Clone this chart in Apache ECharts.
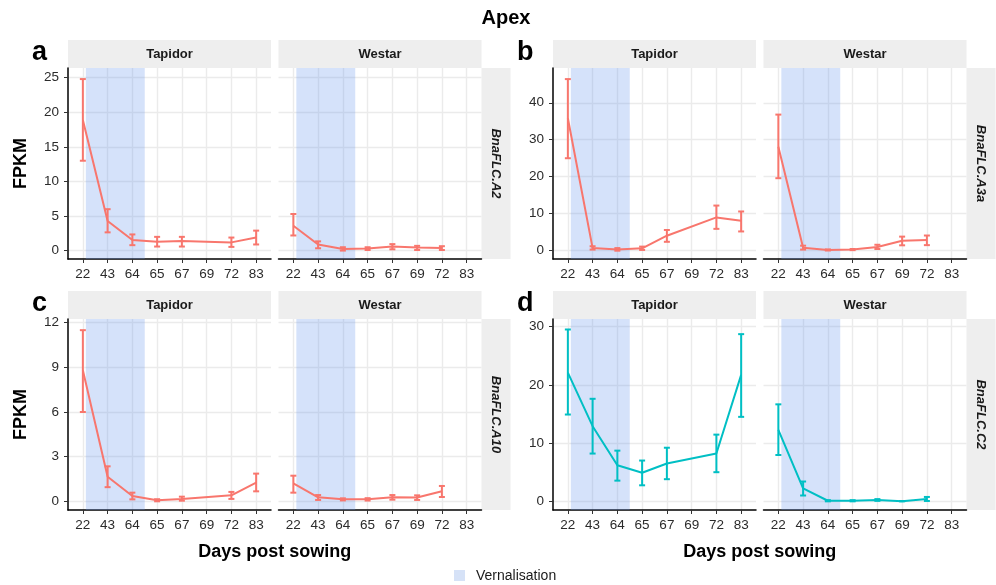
<!DOCTYPE html>
<html>
<head>
<meta charset="UTF-8">
<title>Apex FLC expression</title>
<script src="https://cdn.jsdelivr.net/npm/echarts@6/dist/echarts.min.js"></script>
<style>
  html, body { margin: 0; padding: 0; background: #fff; }
  #main { width: 996px; height: 585px; }
</style>
</head>
<body>
<div id="main"></div>
<script>
// sampling days (categories on the x axis)
var days = ['22', '43', '64', '65', '67', '69', '72', '83'];

// a: BnaFLC.A2
var aTapMean = [18.9, 4.3, 1.55, 1.3, 1.4, null, 1.2, 1.9];
var aTapLow  = [13.0, 2.65, 0.8, 0.6, 0.6, null, 0.55, 0.9];
var aTapHigh = [24.8, 6.0, 2.35, 2.0, 2.0, null, 1.9, 2.9];
var aWesMean = [3.6, 0.9, 0.25, 0.3, 0.6, 0.45, 0.4, null];
var aWesLow  = [2.2, 0.35, 0.02, 0.1, 0.2, 0.1, 0.1, null];
var aWesHigh = [5.3, 1.35, 0.5, 0.5, 0.95, 0.7, 0.65, null];

// b: BnaFLC.A3a
var bTapMean = [35.8, 0.7, 0.35, 0.65, 4.05, null, 9.0, 8.1];
var bTapLow  = [25.0, 0.3, 0.0, 0.2, 2.4, null, 5.9, 5.2];
var bTapHigh = [46.4, 1.2, 0.7, 1.1, 5.6, null, 12.2, 10.6];
var bWesMean = [28.1, 0.8, 0.2, 0.3, 1.0, 2.7, 2.9, null];
var bWesLow  = [19.6, 0.3, 0.05, 0.15, 0.45, 1.45, 1.5, null];
var bWesHigh = [36.8, 1.35, 0.35, 0.45, 1.6, 3.8, 4.1, null];

// c: BnaFLC.A10
var cTapMean = [8.8, 1.65, 0.36, 0.07, 0.16, null, 0.4, 1.25];
var cTapLow  = [6.0, 0.95, 0.13, 0.0, 0.04, null, 0.16, 0.67];
var cTapHigh = [11.5, 2.35, 0.58, 0.14, 0.31, null, 0.63, 1.86];
var cWesMean = [1.2, 0.27, 0.13, 0.13, 0.27, 0.25, 0.67, null];
var cWesLow  = [0.58, 0.09, 0.06, 0.05, 0.11, 0.09, 0.29, null];
var cWesHigh = [1.72, 0.42, 0.2, 0.21, 0.42, 0.4, 1.03, null];

// d: BnaFLC.C2
var dTapMean = [22.1, 12.9, 6.2, 4.9, 6.5, null, 8.2, 21.7];
var dTapLow  = [14.9, 8.2, 3.55, 2.75, 3.8, null, 5.0, 14.5];
var dTapHigh = [29.5, 17.6, 8.7, 7.0, 9.2, null, 11.45, 28.7];
var dWesMean = [12.25, 2.23, 0.1, 0.1, 0.23, 0.02, 0.4, null];
var dWesLow  = [7.95, 1.0, 0.0, 0.0, 0.08, 0.0, 0.06, null];
var dWesHigh = [16.65, 3.4, 0.2, 0.2, 0.38, 0.05, 0.75, null];

// y tick labels per gene
var aTicks = [0, 5, 10, 15, 20, 25];
var bTicks = [0, 10, 20, 30, 40];
var cTicks = [0, 3, 6, 9, 12];
var dTicks = [0, 10, 20, 30];

// vernalisation period, in category positions
var vernBand = [0.12, 2.5];

var genes = ['BnaFLC.A2', 'BnaFLC.A3a', 'BnaFLC.A10', 'BnaFLC.C2'];
var letters = ['a', 'b', 'c', 'd'];
var lines = ['Tapidor', 'Westar'];

var red = '#F8766D';
var teal = '#00BFC4';
var bandColor = 'rgba(100,149,237,0.27)';
var font = '"Liberation Sans", Arial, Helvetica, sans-serif';

var W = 203, H = 191;
var colLeft = [68, 553];
var rowTop = [68, 319];
var gap = 7.5;

var panels = [
  { row: 0, col: 0, tap: [aTapMean, aTapLow, aTapHigh], wes: [aWesMean, aWesLow, aWesHigh], ticks: aTicks, min: -1.2, max: 26.4, color: red },
  { row: 0, col: 1, tap: [bTapMean, bTapLow, bTapHigh], wes: [bWesMean, bWesLow, bWesHigh], ticks: bTicks, min: -2.25, max: 49.4, color: red },
  { row: 1, col: 0, tap: [cTapMean, cTapLow, cTapHigh], wes: [cWesMean, cWesLow, cWesHigh], ticks: cTicks, min: -0.585, max: 12.25, color: red },
  { row: 1, col: 1, tap: [dTapMean, dTapLow, dTapHigh], wes: [dWesMean, dWesLow, dWesHigh], ticks: dTicks, min: -1.49, max: 31.3, color: teal }
];

var xIdx = days.map(function (d, i) { return i; });

var grids = [], xAxes = [], yAxes = [], series = [], graphics = [];

function errRender(color) {
  return function (params, api) {
    var x = api.value(0);
    var p1 = api.coord([x, api.value(1)]);
    var p2 = api.coord([x, api.value(2)]);
    var w = 3;
    var st = { stroke: color, lineWidth: 2 };
    return {
      type: 'group',
      children: [
        { type: 'line', shape: { x1: p1[0], y1: p1[1], x2: p2[0], y2: p2[1] }, style: st },
        { type: 'line', shape: { x1: p1[0] - w, y1: p1[1], x2: p1[0] + w, y2: p1[1] }, style: st },
        { type: 'line', shape: { x1: p2[0] - w, y1: p2[1], x2: p2[0] + w, y2: p2[1] }, style: st }
      ]
    };
  };
}

panels.forEach(function (p, pi) {
  [p.tap, p.wes].forEach(function (arr, fi) {
    var gi = grids.length;
    var left = colLeft[p.col] + fi * (W + gap);
    var top = rowTop[p.row];
    grids.push({ left: left, top: top, width: W, height: H, containLabel: false });
    xAxes.push({
      gridIndex: gi, type: 'value', min: -0.6, max: 7.6,
      axisLine: { show: true, onZero: false, lineStyle: { color: '#000', width: 1.5 } },
      axisTick: { show: true, customValues: xIdx, length: 4, lineStyle: { color: '#333', width: 1 } },
      axisLabel: {
        customValues: xIdx, margin: 8, fontSize: 13.5, color: '#2b2b2b', fontFamily: font,
        formatter: function (v) { return days[Math.round(v)]; }
      },
      splitLine: { show: true, lineStyle: { color: '#ebebeb', width: 1.4 } }
    });
    yAxes.push({
      gridIndex: gi, type: 'value', min: p.min, max: p.max,
      axisLine: { show: fi === 0, onZero: false, lineStyle: { color: '#000', width: 1.5 } },
      axisTick: { show: fi === 0, customValues: p.ticks, length: 4, lineStyle: { color: '#333', width: 1 } },
      axisLabel: { show: fi === 0, customValues: p.ticks, margin: 9, fontSize: 13.5, color: '#2b2b2b', fontFamily: font },
      splitLine: { show: true, lineStyle: { color: '#ebebeb', width: 1.4 } }
    });

    var mean = arr[0], lo = arr[1], hi = arr[2];
    var lineData = [], errData = [];
    days.forEach(function (d, i) {
      if (mean[i] != null) {
        lineData.push([i, mean[i]]);
        errData.push([i, lo[i], hi[i]]);
      }
    });

    // vernalisation band
    series.push({
      type: 'line', xAxisIndex: gi, yAxisIndex: gi, data: [], z: 1, silent: true,
      markArea: {
        silent: true,
        itemStyle: { color: bandColor },
        data: [[{ xAxis: vernBand[0] }, { xAxis: vernBand[1] }]]
      }
    });
    series.push({
      type: 'line', xAxisIndex: gi, yAxisIndex: gi, data: lineData, z: 3,
      showSymbol: false, silent: true, animation: false,
      lineStyle: { color: p.color, width: 2 }, itemStyle: { color: p.color }
    });
    series.push({
      type: 'custom', xAxisIndex: gi, yAxisIndex: gi, data: errData, z: 4,
      encode: { x: 0, y: [1, 2] }, silent: true, animation: false,
      renderItem: errRender(p.color)
    });

    // facet strip on top
    graphics.push({
      type: 'rect', left: left, top: top - 28, shape: { width: W, height: 28 },
      style: { fill: '#eeeeee' }, silent: true
    });
    graphics.push({
      type: 'text', x: left + W / 2, y: top - 14,
      style: { text: lines[fi], font: 'bold 13px ' + font, fill: '#1a1a1a', align: 'center', verticalAlign: 'middle' }
    });
  });

  // gene strip at the right
  var gx = colLeft[p.col] + 2 * W + gap;
  var gy = rowTop[p.row];
  graphics.push({
    type: 'rect', left: gx, top: gy, shape: { width: 29, height: H },
    style: { fill: '#eeeeee' }, silent: true
  });
  graphics.push({
    type: 'text', x: gx + 14.5, y: gy + H / 2, rotation: -Math.PI / 2,
    style: { text: genes[pi], font: 'italic bold 13px ' + font, fill: '#1a1a1a', align: 'center', verticalAlign: 'middle' }
  });

  // panel letter
  graphics.push({
    type: 'text', x: colLeft[p.col] - 36, y: rowTop[p.row] - 15,
    style: { text: letters[pi], font: 'bold 27px ' + font, fill: '#000', align: 'left', verticalAlign: 'middle' }
  });
});

// y titles
[0, 1].forEach(function (r) {
  graphics.push({
    type: 'text', x: 21.5, y: rowTop[r] + H / 2, rotation: Math.PI / 2,
    style: { text: 'FPKM', font: 'bold 18px ' + font, fill: '#000', align: 'center', verticalAlign: 'middle' }
  });
});
// x titles
[0, 1].forEach(function (c) {
  graphics.push({
    type: 'text', x: colLeft[c] + (2 * W + gap) / 2, y: 552,
    style: { text: 'Days post sowing', font: 'bold 18px ' + font, fill: '#000', align: 'center', verticalAlign: 'middle' }
  });
});
// title
graphics.push({
  type: 'text', x: 506, y: 18,
  style: { text: 'Apex', font: 'bold 20px ' + font, fill: '#000', align: 'center', verticalAlign: 'middle' }
});
// legend
graphics.push({
  type: 'rect', left: 454, top: 570, shape: { width: 11, height: 11 },
  style: { fill: '#d6e2f7' }
});
graphics.push({
  type: 'text', x: 476, y: 576,
  style: { text: 'Vernalisation', font: '14px ' + font, fill: '#1a1a1a', align: 'left', verticalAlign: 'middle' }
});

var chart = echarts.init(document.getElementById('main'), null, { renderer: 'canvas' });
chart.setOption({
  animation: false,
  backgroundColor: '#fff',
  grid: grids,
  xAxis: xAxes,
  yAxis: yAxes,
  series: series,
  graphic: graphics
});
</script>
</body>
</html>
